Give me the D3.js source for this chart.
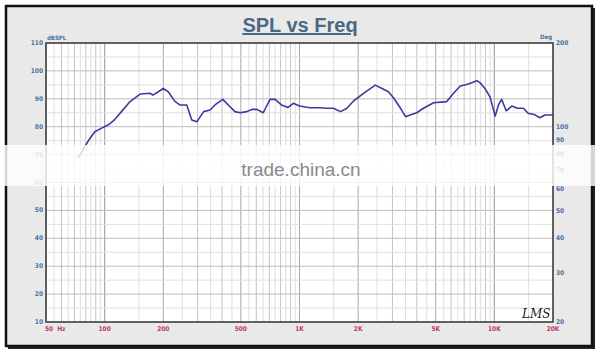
<!DOCTYPE html>
<html>
<head>
<meta charset="utf-8">
<script src="https://cdn.jsdelivr.net/npm/d3@7"></script>
<style>
  html, body { margin: 0; padding: 0; background: #fff; }
  svg { display: block; }
</style>
</head>
<body>
<div id="chart"></div>
<script>
const freqHz = [73, 79, 84, 89, 96, 104, 112, 122, 135, 152, 171, 177, 192, 200, 212, 230, 243, 264, 280, 298,
  322, 348, 368, 404, 431, 466, 496, 536, 569, 604, 651, 706, 749, 808, 873, 930, 1000, 1130, 1270,
  1380, 1490, 1625, 1750, 1900, 2140, 2450, 2650, 2860, 3050, 3300, 3500, 3700, 4000, 4330, 4880,
  5700, 6170, 6690, 7370, 8130, 8430, 8950, 9500, 10100, 10500, 10900, 11500, 12300, 13100, 14100,
  14900, 16000, 17100, 18200, 20000];
const splDb = [68.7, 72.8, 75.8, 78.2, 79.4, 80.6, 82.4, 85.4, 89, 91.7, 92, 91.3, 92.9, 93.7, 92.5, 89, 87.8, 87.8, 82.4, 81.8,
  85.4, 86, 87.8, 89.8, 87.8, 85.4, 85, 85.4, 86.2, 86.2, 85, 89.8, 89.8, 87.8, 86.9, 88.4, 87.4, 86.8, 86.8,
  86.6, 86.6, 85.4, 86.6, 89.3, 92, 94.9, 93.7, 92.5, 90.2, 86.6, 83.6, 84.2, 85, 86.6, 88.6,
  89, 92, 94.6, 95.3, 96.5, 95.8, 93.7, 90.7, 83.8, 87.8, 89.8, 85.7, 87.4, 86.6, 86.6,
  84.8, 84.4, 83.2, 84.2, 84.2];

const xTicks = [50, 100, 200, 500, 1000, 2000, 5000, 10000, 20000];
const xTickLabels = ['50  Hz', '100', '200', '500', '1K', '2K', '5K', '10K', '20K'];
const leftTicks = [10, 20, 30, 40, 50, 60, 70, 80, 90, 100, 110];
const rightTicks = [20, 30, 40, 50, 60, 70, 80, 90, 100, 200];

const W = 600, H = 353;
const m = { left: 46, right: 553, top: 43, bottom: 322 };

const svg = d3.select('#chart').append('svg')
  .attr('width', W).attr('height', H);

// outer frame
svg.append('rect').attr('x', 8).attr('y', 8).attr('width', 587).attr('height', 341)
  .attr('fill', '#222');
svg.append('rect').attr('x', 6).attr('y', 6).attr('width', 586).attr('height', 340)
  .attr('fill', '#e9e9e9').attr('stroke', '#111').attr('stroke-width', 2.5);

const x = d3.scaleLog().domain([50, 20000]).range([m.left, m.right]);
const y = d3.scaleLinear().domain([10, 110]).range([m.bottom, m.top]);
const y2 = d3.scaleLog().domain([20, 200]).range([m.bottom, m.top]);

const plot = svg.append('g');
plot.append('rect')
  .attr('x', m.left).attr('y', m.top)
  .attr('width', m.right - m.left).attr('height', m.bottom - m.top)
  .attr('fill', '#fff');

// vertical grid: half steps per decade
const grid = [];
for (let dec = 10; dec <= 10000; dec *= 10) {
  for (let k = 10; k <= 100; k += 5) {
    const f = dec * k / 10;
    if (f >= 50 && f <= 20000) grid.push({ f, major: k % 10 === 0 });
  }
}
plot.append('g').selectAll('line')
  .data(grid)
  .enter().append('line')
  .attr('x1', d => x(d.f)).attr('x2', d => x(d.f))
  .attr('y1', m.top).attr('y2', m.bottom)
  .attr('stroke', d => xTicks.includes(d.f) ? '#a8a8a8' : (d.major ? '#c4c4c4' : '#dedede'))
  .attr('stroke-width', 1);

const hgrid = d3.range(10, 111, 5);
plot.append('g').selectAll('line')
  .data(hgrid)
  .enter().append('line')
  .attr('x1', m.left).attr('x2', m.right)
  .attr('y1', d => y(d)).attr('y2', d => y(d))
  .attr('stroke', d => d % 10 === 0 ? '#bdbdbd' : '#e0e0e0')
  .attr('stroke-width', 1);

// response curve
const pts = freqHz.map((f, i) => [f, splDb[i]]);
const line = d3.line().x(d => x(d[0])).y(d => y(d[1])).curve(d3.curveLinear);
plot.append('path').datum(pts)
  .attr('d', line)
  .attr('fill', 'none')
  .attr('stroke', '#3b3aa3')
  .attr('stroke-width', 1.6)
  .attr('stroke-linejoin', 'round');

plot.append('rect')
  .attr('x', m.left).attr('y', m.top)
  .attr('width', m.right - m.left).attr('height', m.bottom - m.top)
  .attr('fill', 'none').attr('stroke', '#3a3a3a').attr('stroke-width', 1.5);

const tickFont = '"Liberation Sans Narrow", "Arial Narrow", "DejaVu Sans Condensed", sans-serif';

// left axis
svg.append('g').selectAll('text')
  .data(leftTicks)
  .enter().append('text')
  .attr('x', m.left - 3).attr('y', d => y(d) + 2)
  .attr('text-anchor', 'end')
  .attr('font-family', tickFont).attr('font-size', 6.5).attr('font-weight', 'bold')
  .attr('fill', '#4a74a3')
  .text(d => d);

// right axis
svg.append('g').selectAll('text')
  .data(rightTicks)
  .enter().append('text')
  .attr('x', m.right + 3).attr('y', d => y2(d) + 2)
  .attr('text-anchor', 'start')
  .attr('font-family', tickFont).attr('font-size', 6.5).attr('font-weight', 'bold')
  .attr('fill', '#4a74a3')
  .text(d => d);

// bottom axis
svg.append('g').selectAll('text')
  .data(xTicks)
  .enter().append('text')
  .attr('x', (d, i) => i === 0 ? m.left - 1 : x(d))
  .attr('y', m.bottom + 9)
  .attr('text-anchor', (d, i) => i === 0 ? 'start' : 'middle')
  .attr('font-family', tickFont).attr('font-size', 6.5).attr('font-weight', 'bold')
  .attr('fill', '#c4356a')
  .style('white-space', 'pre')
  .text((d, i) => xTickLabels[i]);

svg.append('text').attr('x', m.left + 1).attr('y', m.top - 3)
  .attr('font-family', tickFont).attr('font-size', 6).attr('font-weight', 'bold')
  .attr('fill', '#4a74a3').text('dBSPL');
svg.append('text').attr('x', m.right - 1).attr('y', m.top - 4)
  .attr('text-anchor', 'end')
  .attr('font-family', tickFont).attr('font-size', 6).attr('font-weight', 'bold')
  .attr('fill', '#4a74a3').text('Deg');

// title
svg.append('text').attr('x', 300).attr('y', 32)
  .attr('text-anchor', 'middle')
  .attr('font-family', '"Liberation Sans", Arial, sans-serif')
  .attr('font-size', 20).attr('font-weight', 'bold')
  .attr('fill', '#4a6a84')
  .attr('text-decoration', 'underline')
  .text('SPL vs Freq');

// LMS mark
svg.append('text').attr('x', 522).attr('y', 318)
  .attr('font-family', '"DejaVu Serif", serif').attr('font-style', 'italic')
  .attr('font-size', 12).attr('fill', '#222')
  .text('LMS');

// watermark band
svg.append('rect').attr('x', 0).attr('y', 145).attr('width', W).attr('height', 41)
  .attr('fill', '#fff').attr('opacity', 0.82);
svg.append('text').attr('x', 301).attr('y', 176)
  .attr('text-anchor', 'middle')
  .attr('font-family', '"Liberation Sans", Arial, sans-serif')
  .attr('font-size', 19).attr('fill', '#8a8a8a')
  .text('trade.china.cn');
</script>
</body>
</html>
